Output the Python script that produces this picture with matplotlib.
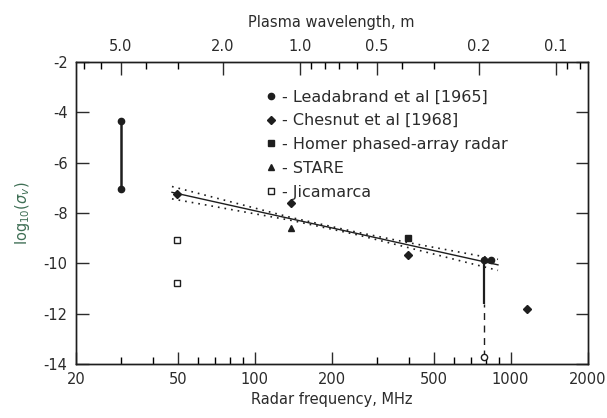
import matplotlib

matplotlib.use("Agg")
import matplotlib.pyplot as plt
from matplotlib.ticker import FixedLocator, NullFormatter

# Data (frequency in MHz, log10 of volume cross section)
leadabrand_freq = [30, 30, 785, 836]
leadabrand_val = [-4.35, -7.05, -9.85, -9.85]
chesnut_freq = [49.5, 139, 398, 1155]
chesnut_val = [-7.25, -7.6, -9.66, -11.8]
homer_freq = [398]
homer_val = [-8.98]
stare_freq = [139]
stare_val = [-8.6]
jicamarca_freq = [49.5, 49.5]
jicamarca_val = [-9.07, -10.8]
# Open circle at bottom joined by a bar/dashed line to the 785 MHz point
limit_freq = [785]
limit_top = [-9.85]
limit_mid = [-11.6]
limit_low = [-13.73]

fit_freq = [47.5, 893]
fit_val = [-7.18, -10.06]
band_freq = [47.5, 140, 250, 400, 893]
band_upper = [-6.95, -8.19, -8.76, -9.18, -9.84]
band_lower = [-7.44, -8.30, -8.86, -9.38, -10.28]

freq_major = [20, 50, 100, 200, 500, 1000, 2000]
freq_minor = [30, 40, 60, 70, 80, 90, 300, 400, 600, 700, 800, 900]
wave_major = [5.0, 2.0, 1.0, 0.5, 0.2, 0.1]
wave_minor = [7, 6, 4, 3, 0.9, 0.8, 0.7, 0.6, 0.4, 0.3, 0.09, 0.08]
y_ticks = [-2, -4, -6, -8, -10, -12, -14]

TEXT = "#2b2b2b"
INK = "#1e1e1e"

plt.rcParams["font.family"] = ["DejaVu Sans"]
plt.rcParams["font.size"] = 10.5

fig = plt.figure(figsize=(6.07, 4.18), dpi=100)
ax = fig.add_axes([0.125, 0.129, 0.843, 0.723])

# fit line and confidence band
ax.plot(fit_freq, fit_val, color=INK, lw=1.0)
ax.plot(band_freq, band_upper, color=INK, lw=1.2, ls=(0, (1, 3)))
ax.plot(band_freq, band_lower, color=INK, lw=1.2, ls=(0, (1, 3)))

# vertical bars
ax.plot(leadabrand_freq[:2], leadabrand_val[:2], color=INK, lw=1.8)
ax.vlines(limit_freq, limit_mid, limit_top, color=INK, lw=1.6)
ax.vlines(limit_freq, limit_low, limit_mid, color=INK, lw=1.0, linestyles=(0, (5, 4)))

ms = 4.5
ax.plot(leadabrand_freq, leadabrand_val, "o", color=INK, ms=ms, ls="none",
        label="- Leadabrand et al [1965]")
ax.plot(chesnut_freq, chesnut_val, "D", color=INK, ms=ms - 0.5, ls="none",
        label="- Chesnut et al [1968]")
ax.plot(homer_freq, homer_val, "s", color=INK, ms=ms, ls="none",
        label="- Homer phased-array radar")
ax.plot(stare_freq, stare_val, "^", color=INK, ms=ms + 0.5, ls="none", label="- STARE")
ax.plot(jicamarca_freq, jicamarca_val, "s", mfc="white", mec=INK, mew=1.0, ms=ms,
        ls="none", label="- Jicamarca")
ax.plot(limit_freq, limit_low, "o", mfc="white", mec=INK, mew=1.0, ms=ms, ls="none")

ax.set_xscale("log")
ax.set_xlim(20, 2000)
ax.set_ylim(-14, -2)
ax.set_yticks(y_ticks)
ax.set_yticklabels([str(v) for v in y_ticks])
ax.xaxis.set_major_locator(FixedLocator(freq_major))
ax.xaxis.set_minor_locator(FixedLocator(freq_minor))
ax.set_xticklabels([str(v) for v in freq_major])
ax.xaxis.set_minor_formatter(NullFormatter())
ax.tick_params(axis="both", which="major", direction="in", length=9, width=1.0,
               colors=TEXT, labelsize=10.5, right=True, top=False, pad=6)
ax.tick_params(axis="x", which="minor", direction="in", length=5, width=1.0, top=False)
ax.set_xlabel("Radar frequency, MHz", color=TEXT, fontsize=10.5, labelpad=3)
ax.set_ylabel(r"log$_{10}$($\sigma_v$)", color="#3f6f55", fontsize=10.5, labelpad=8)

# top axis: plasma wavelength = 150 / f(MHz)
top = ax.twiny()
top.set_xscale("log")
top.set_xlim(ax.get_xlim())
top.xaxis.set_major_locator(FixedLocator([150 / w for w in wave_major]))
top.xaxis.set_minor_locator(FixedLocator([150 / w for w in wave_minor]))
top.set_xticklabels([f"{w:.1f}" for w in wave_major])
top.xaxis.set_minor_formatter(NullFormatter())
top.tick_params(axis="x", which="major", direction="in", length=9, width=1.0,
                colors=TEXT, labelsize=10.5, pad=6)
top.tick_params(axis="x", which="minor", direction="in", length=5, width=1.0)
top.set_xlabel("Plasma wavelength, m", color=TEXT, fontsize=10.5, labelpad=8)

for a in (ax, top):
    for s in a.spines.values():
        s.set_color(INK)
        s.set_linewidth(1.0)

leg = ax.legend(loc="upper left", bbox_to_anchor=(0.36, 0.93), frameon=False,
                handlelength=0.6, handletextpad=0.4, labelspacing=0.55,
                fontsize=11.5, borderaxespad=0.0)
for t in leg.get_texts():
    t.set_color(TEXT)

fig.savefig("out.png", dpi=100, facecolor="white")
